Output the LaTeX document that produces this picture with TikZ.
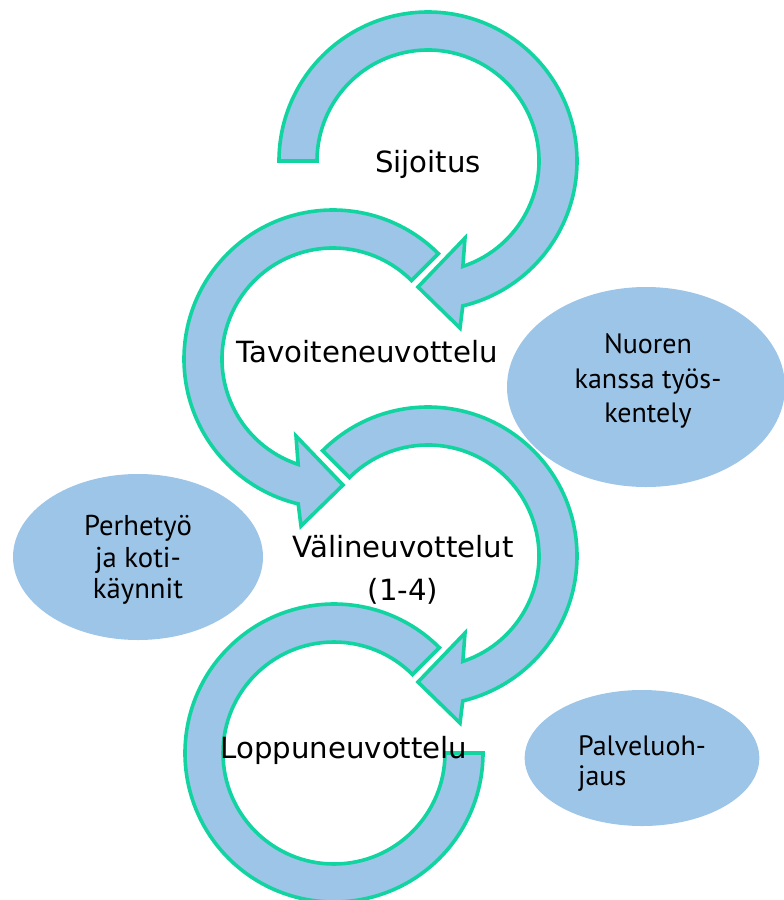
\documentclass[tikz,border=0pt]{standalone}
\usepackage{fontspec}
\setmainfont{DejaVu Sans}
\newfontfamily\ellfont{PT Sans}
\usetikzlibrary{shapes.geometric}
\definecolor{bandfill}{RGB}{157,197,232}
\definecolor{bandline}{RGB}{18,212,160}
\begin{document}
\begin{tikzpicture}[x=0.75pt,y=-0.75pt,
  band/.style={fill=bandfill, draw=bandline, line width=2.7pt, line join=miter},
  lbl/.style={font=\fontsize{21.9}{32}\selectfont, inner sep=0pt, anchor=base},
  bub/.style={ellipse, fill=bandfill, draw=none, inner sep=0pt},
  etext/.style={font=\ellfont\fontsize{21}{26}\selectfont, inner sep=0pt}]
\useasboundingbox (0,0) rectangle (784,900);
\coordinate (c1) at (428,161);
\coordinate (c2) at (333,359);
\coordinate (c3) at (428,556);
\coordinate (c4) at (334,753);

% ellipses
\node[bub, minimum width=208.5pt, minimum height=150pt] (nuoren) at (646,387) {};
\node[bub, minimum width=187.5pt, minimum height=124.5pt] (perhe) at (138,557) {};
\node[bub, minimum width=176pt, minimum height=102pt] (palvelu) at (642,758) {};

% arrow 1 (Sijoitus), clockwise, tail at left
\draw[band] ([shift={(c1)}]180:149) arc[start angle=180, end angle=436.5, radius=149]
  -- ([shift={(c1)}]32,167) -- ([shift={(c1)}]-10,126) -- ([shift={(c1)}]37,77)
  -- ([shift={(c1)}]431.7:111) arc[start angle=431.7, end angle=180, radius=111] -- cycle;

% arrow 2 (Tavoiteneuvottelu), counter-clockwise, tail at upper right
\draw[band] ([shift={(c2)}]315:149) arc[start angle=315, end angle=103.5, radius=149]
  -- ([shift={(c2)}]-32,167) -- ([shift={(c2)}]10,126) -- ([shift={(c2)}]-37,77)
  -- ([shift={(c2)}]108.3:111) arc[start angle=108.3, end angle=315, radius=111] -- cycle;

% arrow 3 (Valineuvottelut), clockwise, tail at upper left
\draw[band] ([shift={(c3)}]225:149) arc[start angle=225, end angle=436.5, radius=149]
  -- ([shift={(c3)}]32,167) -- ([shift={(c3)}]-10,126) -- ([shift={(c3)}]37,77)
  -- ([shift={(c3)}]431.7:111) arc[start angle=431.7, end angle=225, radius=111] -- cycle;

% arrow 4 (Loppuneuvottelu), ring segment without head
\draw[band] ([shift={(c4)}]315:149) arc[start angle=315, end angle=0, radius=149]
  -- ([shift={(c4)}]0:111) arc[start angle=0, end angle=315, radius=111] -- cycle;

% labels
\node[lbl] (sijoitus) at (428,172) {Sijoitus};
\node[lbl] (tavoite) at (367,362) {Tavoiteneuvottelu};
\node[lbl] (vali) at (403,557) {Välineuvottelut};
\node[lbl] (vali2) at (403,600) {(1-4)};
\node[lbl] (loppu) at (344,758) {Loppuneuvottelu};

% ellipse texts
\node[etext, align=center] (nuorentxt) at (648,381) {Nuoren\\kanssa työs-\\kentely};
\node[etext, align=center, font=\ellfont\fontsize{21.5}{23.5}\selectfont] (perhetxt) at (138,560) {Perhetyö\\ja koti-\\käynnit};
\node[etext, align=left, font=\ellfont\fontsize{21}{22.5}\selectfont] (palvtxt) at (642,764) {Palveluoh-\\jaus};
\end{tikzpicture}
\end{document}
